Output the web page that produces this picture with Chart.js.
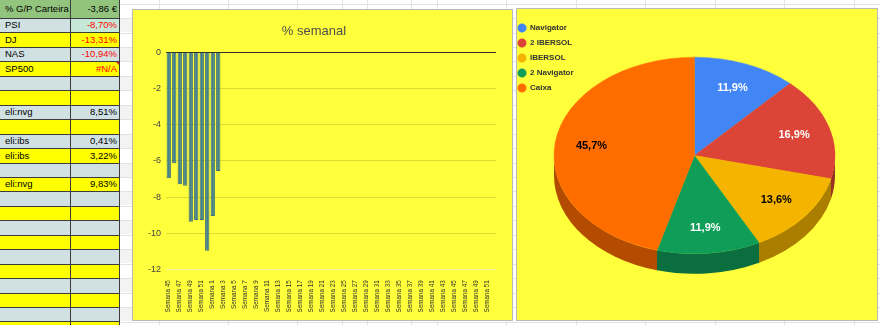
<!DOCTYPE html>
<html><head><meta charset="utf-8">
<script src="https://cdn.jsdelivr.net/npm/chart.js@4.4.1/dist/chart.umd.min.js"></script>
<style>
html,body{margin:0;padding:0}
body{width:880px;height:325px;overflow:hidden;position:relative;background:#fff;font-family:Arial,"Liberation Sans",sans-serif}
.vl{position:absolute;top:0;width:1px;height:325px;background:#e2e2e2}
.hl{position:absolute;left:120px;width:760px;height:1px;background:#e2e2e2}
.band{position:absolute;left:120px;width:12px;background:#f3f3f3}
.cell{position:absolute;box-sizing:border-box;font-size:9.5px;white-space:nowrap;color:#000}
.dline{position:absolute;background:#3c3c3c}
.panel{position:absolute;box-sizing:border-box;border:1px solid #b9b9b9;background:#ffff3b}
canvas{position:absolute}
</style></head>
<body>
<div id="bg"></div>
<div id="sheet"></div>
<div class="panel" style="left:132px;top:9px;width:381px;height:312px"></div>
<div class="panel" style="left:516px;top:8px;width:362px;height:313px"></div>
<canvas id="bar" width="381" height="312" style="left:132px;top:9px"></canvas>
<canvas id="pie" width="367" height="313" style="left:511px;top:8px"></canvas>
<script>
// ---------- data ----------
const sheetHeader = ['% G/P Carteira', '-3,86 €'];
const sheetNames = ['PSI','DJ','NAS','SP500','','','eli:nvg','','eli:ibs','eli:ibs','','eli:nvg','','','','','','','','','',''];
const sheetValues = ['-8,70%','-13,31%','-10,94%','#N/A','','','8,51%','','0,41%','3,22%','','9,83%','','','','','','','','','',''];

const weekLabels = ['Semana 45','Semana 46','Semana 47','Semana 48','Semana 49','Semana 50','Semana 51','Semana 52',
 'Semana 1','Semana 2','Semana 3','Semana 4','Semana 5','Semana 6','Semana 7','Semana 8','Semana 9','Semana 10',
 'Semana 11','Semana 12','Semana 13','Semana 14','Semana 15','Semana 16','Semana 17','Semana 18','Semana 19','Semana 20',
 'Semana 21','Semana 22','Semana 23','Semana 24','Semana 25','Semana 26','Semana 27','Semana 28','Semana 29','Semana 30',
 'Semana 31','Semana 32','Semana 33','Semana 34','Semana 35','Semana 36','Semana 37','Semana 38','Semana 39','Semana 40',
 'Semana 41','Semana 42','Semana 43','Semana 44','Semana 45','Semana 46','Semana 47','Semana 48','Semana 49','Semana 50',
 'Semana 51','Semana 52'];
const weeklyPct = [-6.96,-6.13,-7.29,-7.37,-9.36,-9.27,-9.27,-10.97,-9.05,-6.55];
const yTicks = [0,-2,-4,-6,-8,-10,-12];

const pieLabels = ['Navigator','2 IBERSOL','IBERSOL','2 Navigator','Caixa'];
const pieShares = [11.9,16.9,13.6,11.9,45.7];

// ---------- styles ----------
const pieColors = ['#4285f4','#db4437','#f4b400','#0f9d58','#ff6d00'];
const pieSideColors = ['#2e5dab','#9a3027','#ab7e00','#0b6e3e','#b34c00'];
const pieLabelColors = ['#fff','#fff','#000','#fff','#000'];
const PIE_CX = 183.5, PIE_CY = 147.5, PIE_R = 140.5, PIE_TILT = 0.70, PIE_DEPTH = 20;

// ---------- spreadsheet background ----------
const bg = document.getElementById('bg');
[159,228,297,342,367,411,437,506,576,645,715,784,854].forEach(x=>{
  const d=document.createElement('div'); d.className='vl'; d.style.left=x+'px'; bg.appendChild(d);
});
for(let k=0;k<24;k++){
  const y = Math.round(3.6+14.45*k);
  const d=document.createElement('div'); d.className='hl'; d.style.top=y+'px'; bg.appendChild(d);
  if(k%2===1){ const b=document.createElement('div'); b.className='band'; b.style.top=(y+1)+'px'; b.style.height='13px'; bg.appendChild(b); }
}

// ---------- spreadsheet table ----------
const sheet = document.getElementById('sheet');
function cell(left,top,w,h,bgc,text,align,color){
  const d=document.createElement('div'); d.className='cell';
  d.style.left=left+'px'; d.style.top=top+'px'; d.style.width=w+'px'; d.style.height=h+'px';
  d.style.background=bgc; d.style.lineHeight=h+'px'; d.style.textAlign=align;
  d.style.padding = align==='left' ? '0 0 0 5px' : '0 3px 0 0';
  if(color) d.style.color=color;
  d.textContent=text; sheet.appendChild(d); return d;
}
cell(0,0,70,18,'#93c47d',sheetHeader[0],'left');
cell(70,0,50,18,'#93c47d',sheetHeader[1],'right');
for(let i=0;i<sheetNames.length;i++){
  const top = Math.round(18+14.45*i), bot = Math.round(18+14.45*(i+1));
  const h = bot-top;
  const rowc = (i%2===0) ? '#d0e0e3' : '#ffff00';
  const v = sheetValues[i];
  const red = v.startsWith('-')||v.startsWith('#');
  cell(0,top,70,h,rowc,sheetNames[i],'left');
  const c = cell(70,top,50,h,(i===0)?'#c6e8d6':rowc,v,'right',red?'#ff0000':null);
  if(v==='#N/A'){
    const t=document.createElement('div');
    t.style.cssText='position:absolute;right:0;top:0;width:0;height:0;border-top:5px solid #e02020;border-left:5px solid transparent';
    c.appendChild(t);
  }
  const l=document.createElement('div'); l.className='dline';
  l.style.cssText+=';left:0;width:120px;height:1px;top:'+top+'px'; sheet.appendChild(l);
}
[[70],[119]].forEach(([x])=>{
  const l=document.createElement('div'); l.className='dline';
  l.style.cssText+=';top:0;height:325px;width:1px;left:'+x+'px'; sheet.appendChild(l);
});

// ---------- charts ----------
Chart.defaults.font.family = 'Arial, "Liberation Sans", sans-serif';

new Chart(document.getElementById('bar'), {
  type:'bar',
  data:{labels:weekLabels, datasets:[{data:weeklyPct, backgroundColor:'#45818e', borderColor:'#3a6f7a', borderWidth:1,
    categoryPercentage:1, barPercentage:0.78}]},
  options:{
    responsive:false, animation:false, devicePixelRatio:1,
    layout:{padding:{left:0,right:17,top:0,bottom:0}},
    plugins:{
      legend:{display:false}, tooltip:{enabled:false},
      title:{display:true, text:'% semanal', color:'#4d4d4d', font:{size:13, weight:'normal'}, padding:{top:15,bottom:13}}
    },
    scales:{
      x:{
        grid:{display:false}, border:{display:false},
        ticks:{autoSkip:false, maxRotation:90, minRotation:90, padding:3, color:'#333', font:{size:6.3},
          callback:function(v,i){ return i%2===0 ? this.getLabelForValue(v) : ''; }},
        afterFit:s=>{ s.height=51.7; }
      },
      y:{
        min:-12, max:0,
        afterBuildTicks:s=>{ s.ticks = yTicks.map(v=>({value:v})); },
        ticks:{padding:5, color:'#444', font:{size:9}},
        grid:{drawTicks:false, lineWidth:1,
          color:c=> c.tick && c.tick.value===0 ? '#333333' : (c.tick && c.tick.value===-12 ? '#f4f4b0' : 'rgba(0,0,0,0.14)')},
        border:{display:false},
        afterFit:s=>{ s.width=34; }
      }
    }
  }
});

const pie3d = {
  id:'pie3d',
  beforeDatasetsDraw(chart){
    const ctx = chart.ctx, meta = chart.getDatasetMeta(0);
    const a0 = meta.data[0];
    ctx.save();
    ctx.translate(PIE_CX, PIE_CY); ctx.scale(1, PIE_TILT); ctx.translate(-a0.x, -a0.y);
    const dy = PIE_DEPTH / PIE_TILT;
    meta.data.forEach((arc,i)=>{
      const s = Math.max(arc.startAngle, 0), e = Math.min(arc.endAngle, Math.PI);
      if (e <= s) return;
      ctx.beginPath();
      ctx.arc(arc.x, arc.y, arc.outerRadius, s, e);
      ctx.arc(arc.x, arc.y+dy, arc.outerRadius, e, s, true);
      ctx.closePath();
      ctx.fillStyle = pieSideColors[i];
      ctx.fill();
    });
  },
  afterDatasetsDraw(chart){
    const ctx = chart.ctx; ctx.restore();
    const meta = chart.getDatasetMeta(0);
    ctx.save();
    ctx.font = 'bold 11px Arial, "Liberation Sans", sans-serif';
    ctx.textAlign='center'; ctx.textBaseline='middle';
    meta.data.forEach((arc,i)=>{
      const mid = (arc.startAngle+arc.endAngle)/2, r = arc.outerRadius*0.74;
      ctx.fillStyle = pieLabelColors[i];
      ctx.fillText(pieShares[i].toFixed(1).replace('.',',')+'%', PIE_CX + r*Math.cos(mid), PIE_CY + PIE_TILT*r*Math.sin(mid));
    });
    ctx.restore();
  }
};

new Chart(document.getElementById('pie'), {
  type:'pie',
  data:{labels:pieLabels, datasets:[{data:pieShares, backgroundColor:pieColors, borderColor:pieColors, borderWidth:0.5, radius:PIE_R}]},
  options:{
    responsive:false, animation:false, devicePixelRatio:1,
    layout:{padding:{top:9,left:0}},
    plugins:{
      tooltip:{enabled:false},
      legend:{position:'left', align:'start',
        labels:{usePointStyle:true, pointStyle:'circle', boxHeight:6, padding:7, color:'#333', font:{size:8, weight:'bold'}}}
    }
  },
  plugins:[pie3d]
});
</script>
</body></html>
